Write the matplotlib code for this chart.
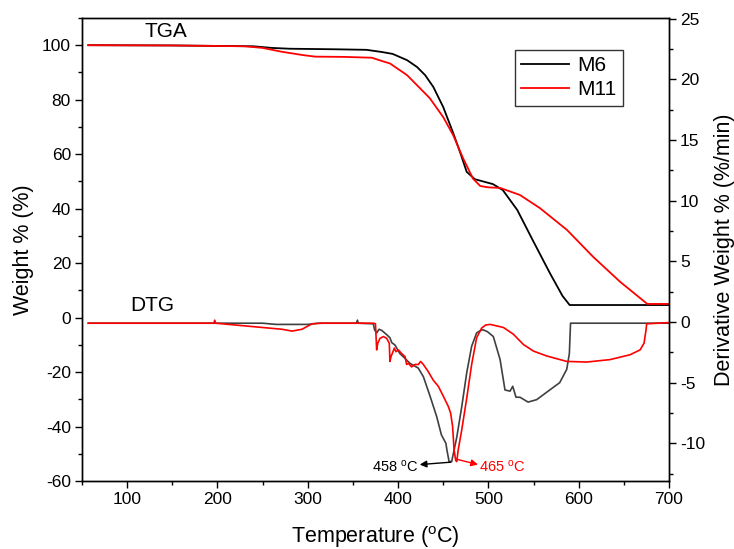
import matplotlib
matplotlib.use("Agg")
import matplotlib.pyplot as plt
from matplotlib.ticker import MultipleLocator

plt.rcParams['font.family'] = ['Liberation Sans', 'DejaVu Sans']
plt.rcParams['mathtext.fontset'] = 'custom'
plt.rcParams['mathtext.rm'] = 'Liberation Sans'
plt.rcParams['mathtext.it'] = 'Liberation Sans'
plt.rcParams['axes.unicode_minus'] = False

# TGA (left axis, weight %)
tga_m6_T = [57, 150, 240, 260, 280, 330, 365, 382, 394, 410, 421, 430, 439, 450, 461, 469, 476, 485, 495, 505, 516, 532, 549, 568, 582, 590, 700]
tga_m6_W = [100, 99.9, 99.6, 99.0, 98.7, 98.5, 98.3, 97.5, 96.8, 94.5, 92, 89, 84.7, 77.3, 67.8, 60.4, 53.5, 50.8, 49.9, 49, 46.8, 39.5, 28.5, 16.4, 8, 4.6, 4.6]
tga_m11_T = [57, 150, 230, 250, 271, 294, 308, 340, 371, 382, 391, 410, 435, 450, 461, 472, 483, 491, 500, 513, 535, 557, 587, 616, 646, 676, 700]
tga_m11_W = [100, 99.9, 99.6, 99, 97.6, 96.4, 95.8, 95.7, 95.4, 94.2, 93.3, 89, 80.6, 73.6, 67.0, 58.5, 51.0, 48.3, 47.8, 47.6, 45, 40.2, 32.2, 22.3, 13.1, 5, 5]

# DTG (right axis, %/min)
dtg_m6_T = [57, 250, 265, 300, 312, 354, 355, 356, 372.6, 374, 376.3, 379, 382, 387.5, 391, 393, 396.6, 402, 407.7, 413, 422.4, 428, 435.4,
            442.8, 448, 453, 454, 456.5, 459.4, 465, 470.5, 476, 481.5, 487, 492.6, 494.4, 499, 505.5, 513, 518.4, 524, 527, 530.6, 535, 544,
            553.5, 568, 579, 586.8, 589.7, 591, 700]
dtg_m6_V = [-0.1, -0.1, -0.2, -0.2, -0.1, -0.1, 0.15, -0.1, -0.15, -0.65, -0.9, -0.6, -0.7, -1.05, -1.3, -1.7, -1.9, -2.6, -3.0, -3.4, -3.8, -4.5, -6.1,
            -7.8, -9.3, -10.0, -10.5, -11.5, -11.5, -9.5, -7.0, -4.2, -2.0, -0.9, -0.65, -0.65, -0.8, -1.2, -3.1, -5.6, -5.7, -5.3, -6.2, -6.2, -6.6,
            -6.4, -5.6, -5.0, -3.9, -2.6, -0.1, -0.1]
dtg_m11_T = [57, 196, 197, 198, 234.6, 271.5, 282.6, 293.6, 304.7, 315.8, 373, 375, 376.3, 377.5, 380, 383.7, 387.4, 390.3, 391, 392.2, 393.6,
             395.9, 397.7, 400.3, 404, 407.7, 409.5, 411.4, 415, 418.8, 422.5, 425, 428, 433.5, 439, 444.6, 450, 455.6, 458.2, 460.4, 462,
             463.8, 465, 466.7, 470.5, 476, 481.5, 487, 492.6, 497, 502, 516.6, 527.6, 538.7, 550, 564.6, 586.8, 609, 634.7, 656.9, 668,
             672.4, 674.6, 675.3, 700]
dtg_m11_V = [-0.1, -0.1, 0.15, -0.1, -0.35, -0.6, -0.75, -0.6, -0.15, -0.1, -0.1, -0.15, -2.3, -1.75, -1.35, -1.2, -1.35, -1.75, -3.25, -2.85, -2.6,
             -2.15, -2.45, -2.3, -2.6, -2.85, -3.5, -3.4, -3.7, -3.5, -3.5, -3.25, -3.5, -4.1, -4.8, -5.3, -6.1, -6.95, -7.5, -8.6, -10.5,
             -11.4, -11.5, -10.5, -8.9, -6.3, -3.5, -1.3, -0.5, -0.25, -0.2, -0.45, -1.0, -1.85, -2.4, -2.8, -3.25, -3.3, -3.1, -2.7, -2.3,
             -1.75, -0.65, -0.15, -0.05]

fig = plt.figure(figsize=(7.34, 5.49), dpi=100)
ax = fig.add_axes([0.1117, 0.1239, 0.7997, 0.8434])
ax2 = ax.twinx()

l1, = ax.plot(tga_m6_T, tga_m6_W, color='black', lw=1.3, label='M6')
l2, = ax.plot(tga_m11_T, tga_m11_W, color='red', lw=1.3, label='M11')
ax2.plot(dtg_m6_T, dtg_m6_V, color='#404040', lw=1.2)
ax2.plot(dtg_m11_T, dtg_m11_V, color='red', lw=1.2)

ax.set_xlim(50, 700)
ax.set_ylim(-60, 110)
ax2.set_ylim(-13.1, 25.05)

ax.xaxis.set_major_locator(MultipleLocator(100))
ax.xaxis.set_minor_locator(MultipleLocator(50))
ax.yaxis.set_major_locator(MultipleLocator(20))
ax.yaxis.set_minor_locator(MultipleLocator(10))
ax2.yaxis.set_major_locator(MultipleLocator(5))
ax2.yaxis.set_minor_locator(MultipleLocator(2.5))

for a in (ax, ax2):
    a.tick_params(which='major', length=5, width=1, labelsize=12.5, direction='out', pad=3)
    a.tick_params(which='minor', length=3, width=1, direction='out')
    for s in a.spines.values():
        s.set_linewidth(1.0)

ax.set_xlabel('Temperature ($^{\\mathrm{o}}$C)', fontsize=15.5, labelpad=12)
ax.set_ylabel('Weight % (%)', fontsize=15.5, labelpad=6)
ax2.set_ylabel('Derivative Weight % (%/min)', fontsize=15.5, labelpad=6)

ax.text(143, 104.9, 'TGA', fontsize=15, ha='center', va='center')
ax.text(127.5, 4.6, 'DTG', fontsize=15, ha='center', va='center')

ax2.annotate('', xy=(424, -11.75), xytext=(458.5, -11.55),
             arrowprops=dict(arrowstyle='-|>', color='black', lw=1, mutation_scale=10, shrinkA=0, shrinkB=0))
ax2.text(423, -11.95, '458 $^{\\mathrm{o}}$C', fontsize=10.5, ha='right', va='center', color='black')
ax2.annotate('', xy=(488.5, -11.75), xytext=(464.5, -11.3),
             arrowprops=dict(arrowstyle='-|>', color='red', lw=1, mutation_scale=10, shrinkA=0, shrinkB=0))
ax2.text(489.5, -11.95, '465 $^{\\mathrm{o}}$C', fontsize=10.5, ha='left', va='center', color='red')

leg = ax.legend(handles=[l1, l2], loc='upper right', bbox_to_anchor=(0.922, 0.931),
                fontsize=15, frameon=True, fancybox=False, edgecolor='black',
                handlelength=2.3, handletextpad=0.4, borderpad=0.3, labelspacing=0.25, borderaxespad=0)
leg.get_frame().set_linewidth(1.0)

fig.savefig('out.png', dpi=100)
